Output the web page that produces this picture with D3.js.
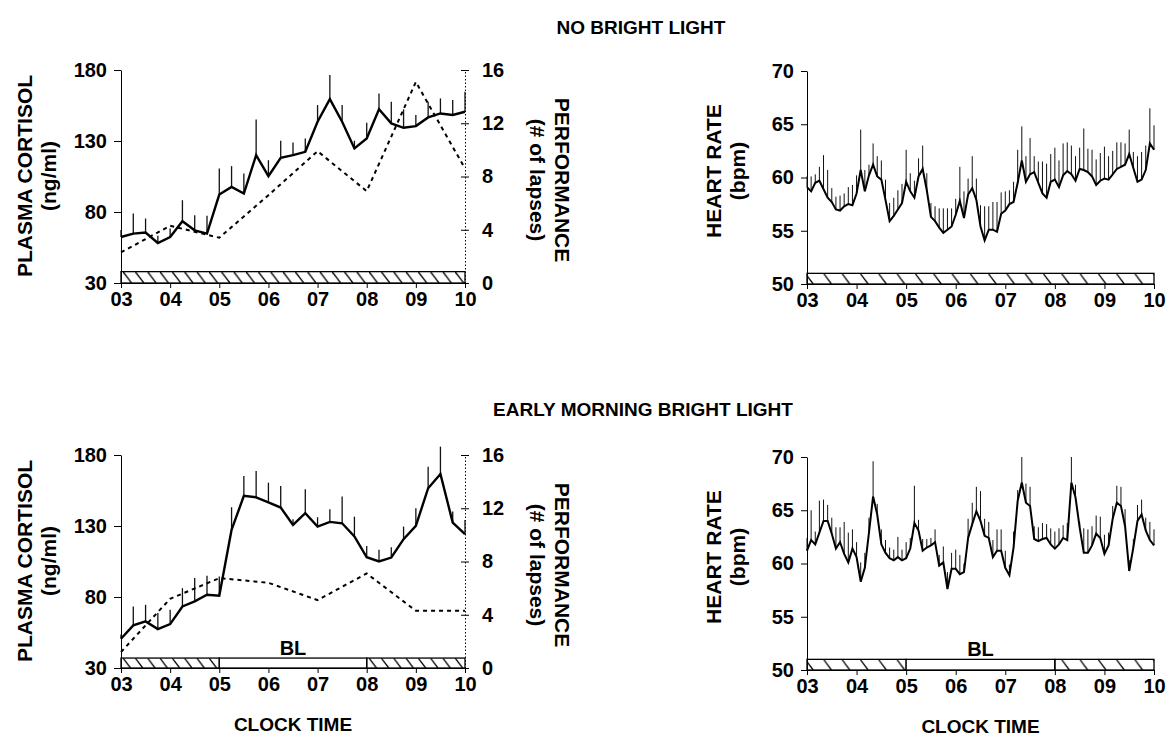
<!DOCTYPE html>
<html>
<head>
<meta charset="utf-8">
<script src="https://cdn.jsdelivr.net/npm/d3@7"></script>
<style>
body { margin: 0; background: #fff; }
text { font-family: "Liberation Sans", Arial, sans-serif; font-weight: bold; fill: #000; }
</style>
</head>
<body>
<script>
// ---- data ----
const hourLabels = ['03', '04', '05', '06', '07', '08', '09', '10']
const hourTicks = [3, 4, 5, 6, 7, 8, 9, 10]
const cortTicks = [30, 80, 130, 180]
const perfTicks = [0, 4, 8, 12, 16]
const hrTicks = [50, 55, 60, 65, 70]

// cortisol sampled every 15 min, 03:00 - 10:00
const cortTime = d3.range(29).map(i => 3 + i / 4)
const cortNoBL = [62.4, 64.8, 65.5, 58.2, 62.4, 73.5, 67.1, 64.8, 92.3, 97.7, 93.0, 120.0, 105.2, 118.2, 120.0, 122.4, 143.6, 159.5, 143.6, 124.8, 131.8, 152.3, 142.4, 139.3, 140.5, 146.6, 149.4, 148.3, 150.6]
const cortNoBLSem = [5, 14.1, 9.9, 5, 6, 14.8, 10.6, 12.5, 18.3, 14.6, 14.1, 25.2, 11.3, 12, 9, 9.4, 11.7, 17, 11.7, 5.4, 11.1, 11.2, 15.3, 13, 7.8, 11.1, 10.6, 10.5, 14.1]
const cortBL = [50.6, 60.0, 62.8, 57.4, 60.9, 73.3, 76.9, 81.6, 80.9, 127.3, 151.2, 150.2, 146.7, 143.0, 130.8, 139.0, 129.6, 132.9, 131.9, 122.6, 108.0, 105.0, 107.8, 120.7, 130.1, 156.6, 166.6, 132.4, 124.2]
const cortBLSem = [3, 13.3, 11.7, 11.3, 10.1, 12.9, 16.4, 13.3, 13.5, 15.9, 14, 18.5, 13.8, 15.2, 4, 16.9, 6.6, 8.9, 18.8, 14, 8, 8.2, 7.3, 8.9, 12.4, 15.2, 19.3, 7.8, 10.1]

// performance (lapses), hourly
const perfTime = [3, 4, 5, 6, 7, 8, 9, 10]
const perfNoBL = [2.3, 4.3, 3.4, 6.6, 9.9, 6.9, 15.1, 8.6]
const perfBL = [1.2, 5.2, 6.75, 6.4, 5.1, 7.1, 4.3, 4.3]

// heart rate every 5 min, 03:00 - 10:00
const hrTime = d3.range(85).map(i => 3 + i / 12)
const hrNoBL = [59.1, 58.7, 59.5, 59.7, 58.9, 58.1, 57.7, 57.0, 56.9, 57.3, 57.5, 57.4, 58.5, 60.7, 58.7, 60.2, 61.2, 60.1, 59.8, 57.9, 55.9, 56.4, 57.0, 57.6, 59.6, 58.7, 58.1, 60.1, 60.8,
    58.8, 56.3, 55.9, 55.3, 54.8, 55.1, 55.4, 56.5, 57.8, 56.2, 58.4, 59.0, 57.9, 55.4, 54.1, 55.1, 55.1, 54.9, 56.6, 56.9, 57.5, 57.7, 59.5, 61.6, 59.6, 60.3, 60.5, 59.5,
    58.5, 58.1, 59.6, 59.8, 59.1, 60.2, 60.6, 60.3, 59.7, 60.8, 60.7, 60.5, 60.1, 59.3, 59.7, 59.9, 59.8, 60.3, 60.8, 61.0, 61.2, 62.2, 60.9, 59.6, 59.8, 60.7, 63.2, 62.6]
const hrNoBLSem = [1.0, 1.4, 0.8, 1.3, 3.2, 2.6, 1.3, 1.2, 1.4, 1.2, 1.6, 1.9, 1.7, 3.8, 2.0, 1.0, 2.0, 1.9, 1.8, 1.9, 1.7, 1.7, 1.8, 1.8, 3.0, 1.7, 1.6, 1.7, 2.2,
    1.6, 1.3, 1.4, 1.8, 2.3, 2.0, 1.7, 1.5, 3.2, 2.5, 1.5, 3.0, 2.0, 2.0, 3.2, 2.2, 2.6, 2.8, 2.0, 1.8, 1.3, 1.9, 3.1, 3.2, 2.4, 3.4, 1.5, 2.0,
    3.0, 3.2, 2.6, 3.0, 2.5, 3.0, 2.7, 2.7, 2.3, 2.0, 3.9, 2.2, 2.5, 2.4, 2.6, 3.0, 2.2, 2.2, 2.5, 2.3, 2.0, 2.3, 1.5, 2.4, 2.6, 2.3, 3.3, 2.3]
const hrBL = [61.2, 62.2, 61.8, 62.9, 64.0, 64.0, 62.8, 61.4, 62.0, 60.9, 60.1, 61.4, 60.6, 58.3, 59.6, 62.9, 66.3, 64.6, 61.8, 61.0, 60.5, 60.3, 60.6, 60.3, 60.5, 61.4, 63.8, 63.1, 61.2,
    61.5, 61.7, 62.0, 59.8, 60.1, 57.6, 59.5, 59.5, 59.0, 59.2, 62.4, 63.7, 64.9, 64.0, 62.6, 62.4, 60.6, 61.2, 61.2, 59.6, 58.9, 61.5, 65.9, 67.6, 65.7, 65.4, 62.3, 62.1,
    62.3, 62.4, 61.8, 61.4, 61.8, 62.4, 62.2, 67.6, 66.2, 63.4, 61.0, 61.0, 61.7, 62.8, 62.4, 60.9, 61.7, 64.2, 65.7, 65.4, 63.5, 59.3, 61.5, 64.0, 64.6, 63.1, 62.2, 61.7]
const hrBLSem = [1.2, 2.8, 1.2, 3.0, 2.0, 1.5, 1.5, 2.0, 1.4, 3.0, 2.8, 1.8, 1.4, 1.8, 1.4, 1.4, 3.3, 1.0, 1.4, 1.2, 1.0, 1.0, 1.9, 1.0, 1.5, 1.0, 3.5, 1.0, 1.1,
    0.8, 0.7, 1.2, 1.0, 1.5, 1.6, 1.5, 1.8, 1.8, 0.8, 1.8, 2.0, 2.3, 2.8, 1.6, 1.5, 1.6, 2.0, 2.0, 1.6, 1.0, 1.5, 1.0, 2.4, 1.8, 1.8, 1.2, 1.3,
    1.5, 1.3, 1.5, 1.6, 1.5, 1.2, 1.6, 2.4, 1.2, 0.5, 2.3, 2.2, 1.8, 1.7, 2.0, 1.8, 1.2, 1.2, 1.6, 1.8, 1.6, 1.0, 0.8, 1.5, 1.4, 1.2, 1.7, 1.5]

// light schedule bar: [start, end, hatched?]
const darkAll = [[3, 10, true]]
const brightLight = [[3, 5, true], [5, 8, false], [8, 10, true]]

// ---- drawing ----
const W = 1174, H = 740
const svg = d3.select('body').append('svg').attr('width', W).attr('height', H)
const defs = svg.append('defs')
let patId = 0

const hatch = (y0, h, step) => {
    let id = 'hatch' + (patId++)
    let p = defs.append('pattern')
        .attr('id', id)
        .attr('patternUnits', 'userSpaceOnUse')
        .attr('x', 0).attr('y', y0)
        .attr('width', step).attr('height', h)
    p.append('path')
        .attr('d', 'M0,0 L' + (h * 0.75) + ',' + h)
        .attr('stroke', '#000').attr('stroke-width', 1.3).attr('fill', 'none')
    return 'url(#' + id + ')'
}

const style_axis = g => {
    g.selectAll('text').style('font-size', '20px').style('font-family', '"Liberation Sans", Arial, sans-serif').style('font-weight', 'bold')
    g.selectAll('line').attr('stroke', '#000')
    g.select('.domain').attr('stroke', '#000')
}

const draw_light_bar = (g, x, yTop, yBot, segs, step) => {
    let fill = hatch(yTop, yBot - yTop, step)
    g.selectAll(null)
        .data(segs)
        .enter()
        .append('rect')
        .attr('x', d => x(d[0]))
        .attr('y', yTop)
        .attr('width', d => x(d[1]) - x(d[0]))
        .attr('height', yBot - yTop)
        .attr('fill', d => d[2] ? fill : '#fff')
        .attr('stroke', '#000')
        .attr('stroke-width', 1.3)
}

const draw_err = (g, x, y, t, v, sem, w) => {
    g.selectAll(null)
        .data(v)
        .enter()
        .append('line')
        .attr('x1', (d, i) => x(t[i]))
        .attr('x2', (d, i) => x(t[i]))
        .attr('y1', d => y(d))
        .attr('y2', (d, i) => y(d + sem[i]))
        .attr('stroke', '#111')
        .attr('stroke-width', w)
}

const draw_cortisol = (top, cort, sem, perf, segs, barTop, showBL, showClock) => {
    let x = d3.scaleLinear().domain([3, 10]).range([121, 465])
    let y = d3.scaleLinear().domain([30, 180]).range([top + 213, top])
    let yp = d3.scaleLinear().domain([0, 16]).range([top + 213, top])
    let g = svg.append('g')

    draw_light_bar(g, x, y(barTop), y(30), segs, 12.3)

    g.append('g').attr('transform', 'translate(121,0)')
        .call(d3.axisLeft(y).tickValues(cortTicks).tickSize(7).tickSizeOuter(0).tickPadding(7))
        .call(style_axis)
    let ra = g.append('g').attr('transform', 'translate(465,0)')
        .call(d3.axisRight(yp).tickValues(perfTicks).tickSize(4).tickSizeOuter(0).tickPadding(13))
        .call(style_axis)
    ra.select('.domain').attr('stroke-dasharray', '1.5,2')
    ra.selectAll('.tick line').attr('x1', -4)
    ra.selectAll('.tick text').attr('x', 17)
    g.append('g').attr('transform', 'translate(0,' + (top + 213) + ')')
        .call(d3.axisBottom(x).tickValues(hourTicks).tickFormat((d, i) => hourLabels[i]).tickSize(5).tickSizeOuter(0).tickPadding(4))
        .call(style_axis)

    draw_err(g, x, y, cortTime, cort, sem, 1.3)

    g.append('path')
        .datum(perf)
        .attr('d', d3.line().x((d, i) => x(perfTime[i])).y(d => yp(d)))
        .attr('fill', 'none').attr('stroke', '#000').attr('stroke-width', 2)
        .attr('stroke-dasharray', '4,4')

    g.append('path')
        .datum(cort)
        .attr('d', d3.line().x((d, i) => x(cortTime[i])).y(d => y(d)))
        .attr('fill', 'none').attr('stroke', '#000').attr('stroke-width', 2.4)
        .attr('stroke-linejoin', 'miter')

    let cy = top + 106
    g.append('text').attr('transform', 'translate(32,' + cy + ') rotate(-90)')
        .attr('text-anchor', 'middle').style('font-size', '21px').text('PLASMA CORTISOL')
    g.append('text').attr('transform', 'translate(56,' + cy + ') rotate(-90)')
        .attr('text-anchor', 'middle').style('font-size', '21px').text('(ng/ml)')
    g.append('text').attr('transform', 'translate(555,' + (cy + 4) + ') rotate(90)')
        .attr('text-anchor', 'middle').style('font-size', '21px').text('PERFORMANCE')
    g.append('text').attr('transform', 'translate(530,' + (cy + 4) + ') rotate(90)')
        .attr('text-anchor', 'middle').style('font-size', '21px').text('(# of lapses)')

    if (showBL) g.append('text').attr('x', x(6.5)).attr('y', y(barTop) - 3)
        .attr('text-anchor', 'middle').style('font-size', '20px').text('BL')
    if (showClock) g.append('text').attr('x', x(6.5)).attr('y', top + 276)
        .attr('text-anchor', 'middle').style('font-size', '19px').text('CLOCK TIME')
}

const draw_hr = (top, hr, sem, segs, showBL, showClock) => {
    let x = d3.scaleLinear().domain([3, 10]).range([807, 1154])
    let y = d3.scaleLinear().domain([50, 70]).range([top + 213, top])
    let g = svg.append('g')

    draw_light_bar(g, x, y(51), y(50), segs, 18.3)

    g.append('g').attr('transform', 'translate(807,0)')
        .call(d3.axisLeft(y).tickValues(hrTicks).tickSize(6).tickSizeOuter(0).tickPadding(7))
        .call(style_axis)
    g.append('g').attr('transform', 'translate(0,' + (top + 213) + ')')
        .call(d3.axisBottom(x).tickValues(hourTicks).tickFormat((d, i) => hourLabels[i]).tickSize(5).tickSizeOuter(0).tickPadding(4))
        .call(style_axis)

    draw_err(g, x, y, hrTime, hr, sem, 1)

    g.append('path')
        .datum(hr)
        .attr('d', d3.line().x((d, i) => x(hrTime[i])).y(d => y(d)))
        .attr('fill', 'none').attr('stroke', '#000').attr('stroke-width', 2)

    let cy = top + 100
    g.append('text').attr('transform', 'translate(721,' + cy + ') rotate(-90)')
        .attr('text-anchor', 'middle').style('font-size', '21px').text('HEART RATE')
    g.append('text').attr('transform', 'translate(745,' + cy + ') rotate(-90)')
        .attr('text-anchor', 'middle').style('font-size', '21px').text('(bpm)')

    if (showBL) g.append('text').attr('x', x(6.5)).attr('y', y(51) - 3)
        .attr('text-anchor', 'middle').style('font-size', '20px').text('BL')
    if (showClock) g.append('text').attr('x', x(6.5)).attr('y', top + 276)
        .attr('text-anchor', 'middle').style('font-size', '19px').text('CLOCK TIME')
}

svg.append('text').attr('x', 641).attr('y', 34).attr('text-anchor', 'middle').style('font-size', '19px').text('NO BRIGHT LIGHT')
svg.append('text').attr('x', 643).attr('y', 416).attr('text-anchor', 'middle').style('font-size', '19px').text('EARLY MORNING BRIGHT LIGHT')

draw_cortisol(70, cortNoBL, cortNoBLSem, perfNoBL, darkAll, 38, false, false)
draw_hr(71, hrNoBL, hrNoBLSem, darkAll, false, false)
draw_cortisol(455, cortBL, cortBLSem, perfBL, brightLight, 37, true, true)
draw_hr(457, hrBL, hrBLSem, brightLight, true, true)
</script>
</body>
</html>
